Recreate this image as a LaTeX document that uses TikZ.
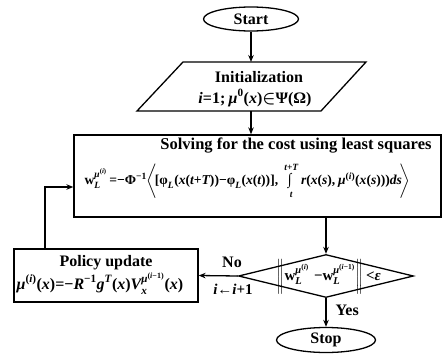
\documentclass[tikz,border=0pt]{standalone}
\usepackage{amsmath}
\usepackage{graphicx}
\usepackage[no-math]{fontspec}
\setmainfont{Liberation Serif}
\usetikzlibrary{shapes.geometric,arrows.meta}
\newcommand\Iv[1]{\text{\bfseries\itshape #1}}
\newcommand\Uv[1]{\text{\bfseries #1}}
\begin{document}
\begin{tikzpicture}[x=1pt,y=-1pt, line width=1.3pt,
  arr/.style={-{Stealth[length=7pt,width=5.5pt]}},
  ttl/.style={font=\fontsize{16}{18}\selectfont\bfseries, inner sep=0pt},
  frm/.style={font=\fontsize{13.6}{15}\selectfont\boldmath, inner sep=0pt},
  term/.style={draw, ellipse, inner sep=0pt, font=\fontsize{16}{18}\selectfont\bfseries},
]
\useasboundingbox (0,0) rectangle (445,362);
% start
\node[term, minimum width=95pt, minimum height=24pt] (start) at (251,19) {Start};
% initialization parallelogram
\coordinate (p1) at (183,62);
\coordinate (p2) at (366,62);
\coordinate (p3) at (321,111);
\coordinate (p4) at (137,111);
\draw (p1) -- (p2) -- (p3) -- (p4) -- cycle;
\node[ttl] (initt) at (259,77) {Initialization};
\node[frm, font=\fontsize{16}{18}\selectfont\boldmath] (initf) at (255,98) {$\Iv{i}\Uv{=1;}\,\Iv{μ}^{\Uv{0}}\Uv{(}\Iv{x}\Uv{)}{\in}\Uv{Ψ(Ω)}$};
\draw[arr] (start.south) -- (start.south |- p1);
% solving box
\node[draw, minimum width=367pt, minimum height=82pt, inner sep=0pt] (box) at (257.5,176) {};
\node[ttl, font=\fontsize{16.5}{18}\selectfont\bfseries] (boxt) at (296,146) {Solving for the cost using least squares};
\node[frm, anchor=west] (boxf) at (84,181) {$\Uv{w}_{\Iv{L}}^{\Iv{μ}^{\Uv{(}\Iv{i}\Uv{)}}}\Uv{\,=−Φ}^{\Uv{−1}}\!\left\langle\!\Uv{[φ}_{\Iv{L}}\Uv{(}\Iv{x}\Uv{(}\Iv{t}\Uv{+}\Iv{T}\Uv{))−φ}_{\Iv{L}}\Uv{(}\Iv{x}\Uv{(}\Iv{t}\Uv{))],}\ \mathop{\scalebox{1}[1.15]{\Uv{∫}}}\limits_{\Iv{t}}^{\Iv{t}\Uv{+}\Iv{T}}\Iv{r}\Uv{(}\Iv{x}\Uv{(}\Iv{s}\Uv{),}\,\Iv{μ}^{\Uv{(}\Iv{i}\Uv{)}}\Uv{(}\Iv{x}\Uv{(}\Iv{s}\Uv{)))}\Iv{ds}\!\right\rangle$};
\draw[arr] (start.south |- p4) -- (start.south |- box.north);
% decision
\node[draw, diamond, minimum width=175pt, minimum height=43pt, inner sep=0pt] (dia) at (326,276) {};
\node[frm, anchor=west, font=\fontsize{15}{16}\selectfont\boldmath] (diat) at (276,277) {$\left\|\vphantom{\bigg|}\Uv{w}_{\Iv{L}}^{\Iv{μ}^{\Uv{(}\Iv{i}\Uv{)}}}\;\Uv{−w}_{\Iv{L}}^{\Iv{μ}^{\Uv{(}\Iv{i}\Uv{−1)}}}\right\|\Uv{<}\Iv{ε}$};
\draw[arr] (dia.north |- box.south) -- (dia.north);
% stop
\node[term, minimum width=99pt, minimum height=25pt] (stop) at (326,340) {Stop};
\draw[arr] (dia.south) -- (stop.north);
\node[ttl, anchor=west] (yes) at (335,310) {Yes};
% policy update
\node[draw, minimum width=184pt, minimum height=53pt, inner sep=0pt] (pol) at (106,275.5) {};
\node[ttl] (polt) at (106,263) {Policy update};
\node[frm, anchor=west, font=\fontsize{16}{18}\selectfont\boldmath] (polf) at (16,284) {$\Iv{μ}^{\Uv{(}\Iv{i}\Uv{)}}\Uv{(}\Iv{x}\Uv{)=−}\Iv{R}^{\Uv{−1}}\Iv{g}^{\Iv{T}}\Uv{(}\Iv{x}\Uv{)}\Iv{V}_{\Iv{x}}^{\Iv{μ}^{\Uv{(}\Iv{i}\Uv{−1)}}}\Uv{(}\Iv{x}\Uv{)}$};
\draw[arr] (dia.west) -- (pol.east);
\node[ttl] (no) at (232,262) {No};
\node[frm, font=\fontsize{15}{17}\selectfont\boldmath] (inc) at (233,289) {$\Iv{i}\Uv{←}\Iv{i}\Uv{+1}$};
% feedback
\coordinate (fb) at (45,187);
\draw[arr] (pol.north -| fb) -- (fb) -- (fb -| box.west);
\end{tikzpicture}
\end{document}
